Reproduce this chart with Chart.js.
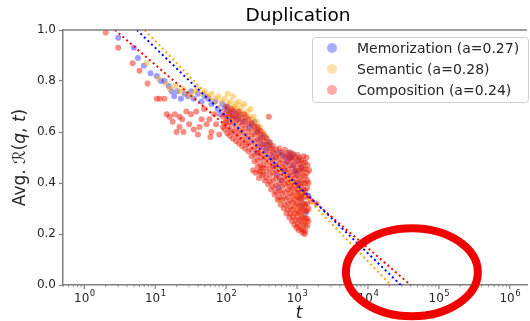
<!DOCTYPE html>
<html>
<head>
<meta charset="UTF-8">
<title>Duplication</title>
<script src="https://cdn.jsdelivr.net/npm/chart.js"></script>
<style>
  body { margin: 0; background: #fff; }
  canvas { display: block; }
</style>
</head>
<body>
<canvas id="chart" width="530" height="321"></canvas>
<script>
const seriesNames = ['Memorization (a=0.27)', 'Semantic (a=0.28)', 'Composition (a=0.24)'];

// [t, avg R]
const memPts = [
  [3.0,0.97],[5.0,0.93],[5.7,0.89],[6.9,0.86],[8.6,0.83],[10.5,0.82],[12,0.80],[13.5,0.80],
  [15.5,0.78],[17,0.76],[18.5,0.74],[20.5,0.76],[23,0.73],[26,0.75],[29,0.74],[32,0.76],
  [35,0.73],[40,0.75],[45,0.72],[50,0.74],[56,0.73],[62,0.71],[70,0.72],[76,0.69],[82,0.67],
  [88,0.71],[95,0.69],[105,0.70],[112,0.68],[120,0.66],[132,0.68],[145,0.65],[158,0.67],
  [172,0.64],[190,0.66],[210,0.62],[235,0.63],[265,0.60],[270,0.52],[300,0.57],[330,0.55],
  [365,0.53],[400,0.56],[440,0.50],[480,0.47],[520,0.43],[550,0.38],[600,0.41],[660,0.45],
  [720,0.48],[780,0.50],[830,0.50],[880,0.47],[940,0.45],[980,0.44],[1000,0.40],[1060,0.37],
  [1120,0.34],[1180,0.31],[1250,0.36],[1320,0.28],[1450,0.35],
  [250,0.64],[280,0.61],[310,0.59],[350,0.58],[390,0.55],[430,0.54],[470,0.52],[510,0.50],
  [560,0.52],[620,0.51],[690,0.50],[760,0.52],[900,0.51],[1050,0.49],[1150,0.46]
];
const semPts = [
  [7.5,0.87],[11,0.81],[14,0.79],[16,0.77],[19,0.78],[22,0.76],[25,0.77],[28,0.75],[32,0.74],
  [36,0.76],[40,0.77],[45,0.75],[50,0.76],[56,0.74],[62,0.75],[70,0.73],[78,0.74],[86,0.72],
  [95,0.73],[105,0.75],[115,0.72],[125,0.74],[130,0.70],[138,0.71],[150,0.72],[160,0.68],
  [165,0.70],[180,0.71],[190,0.66],[200,0.68],[220,0.69],[230,0.65],[245,0.66],[260,0.61],
  [270,0.64],[300,0.62],[330,0.60],[370,0.58],[410,0.55],[450,0.53],[500,0.51],[560,0.49],
  [560,0.33],[620,0.46],[680,0.43],[740,0.40],[800,0.37],[860,0.41],[900,0.30],[920,0.35],
  [980,0.32],[1000,0.28],[1040,0.36],[1100,0.30],[1150,0.34],[1200,0.27],[1280,0.31],[1350,0.25],
  [108,0.71],[118,0.69],[142,0.69],[172,0.67],[210,0.66],[250,0.63],[290,0.59],[340,0.57]
];
const compPts = [
  [2.0,0.99],[3.0,0.93],[4.8,0.87],[6.0,0.84],[7.8,0.79],[10.5,0.73],[11.6,0.73],[13.5,0.73],
  [14.5,0.67],[16,0.66],[17.6,0.64],[18.8,0.67],[20,0.60],[22,0.66],[22,0.62],[24,0.65],
  [25,0.60],[27.5,0.68],[30,0.63],[32,0.67],[35,0.61],[38,0.68],[40,0.59],[42,0.62],[45,0.65],
  [49,0.69],[53,0.63],[58,0.65],[60,0.58],[62,0.60],[68,0.67],[72,0.63],[80,0.59],
  [90,0.66],[90,0.62],[100,0.70],[100,0.64],[110,0.67],[120,0.69],[135,0.66],[150,0.68],
  [180,0.67],[240,0.45],[290,0.42],[320,0.46],[400,0.66],[1360,0.50],[1400,0.47],
  [1590,0.33],[1880,0.32]
];
// dense core of the composition cloud
const compCore = [
  [95,0.61],[95,0.635],[95,0.67],
  [104,0.595],[104,0.625],[104,0.655],[104,0.685],
  [113,0.585],[113,0.61],[113,0.64],[113,0.665],
  [124,0.575],[124,0.60],[124,0.63],[124,0.655],[124,0.68],
  [138,0.565],[138,0.59],[138,0.615],[138,0.645],[138,0.67],
  [152,0.555],[152,0.58],[152,0.605],[152,0.635],[152,0.66],
  [168,0.545],[168,0.57],[168,0.60],[168,0.625],[168,0.65],
  [185,0.535],[185,0.56],[185,0.585],[185,0.615],[185,0.64],
  [205,0.525],[205,0.55],[205,0.575],[205,0.60],[205,0.63],[205,0.65],
  [228,0.505],[228,0.53],[228,0.56],[228,0.585],[228,0.61],[228,0.635],
  [252,0.485],[252,0.51],[252,0.54],[252,0.565],[252,0.59],[252,0.62],
  [278,0.465],[278,0.49],[278,0.52],[278,0.545],[278,0.57],[278,0.60],[278,0.62],
  [305,0.445],[305,0.47],[305,0.50],[305,0.525],[305,0.55],[305,0.58],[305,0.605],
  [338,0.435],[338,0.46],[338,0.485],[338,0.51],[338,0.54],[338,0.565],[338,0.59],
  [372,0.42],[372,0.445],[372,0.47],[372,0.50],[372,0.525],[372,0.55],[372,0.575],
  [415,0.405],[415,0.43],[415,0.455],[415,0.485],[415,0.51],[415,0.535],[415,0.56],
  [458,0.385],[458,0.41],[458,0.44],[458,0.465],[458,0.49],[458,0.52],[458,0.545],
  [505,0.365],[505,0.39],[505,0.42],[505,0.445],[505,0.47],[505,0.50],[505,0.53],
  [560,0.345],[560,0.37],[560,0.40],[560,0.425],[560,0.455],[560,0.48],[560,0.51],[560,0.535],
  [615,0.335],[615,0.36],[615,0.385],[615,0.41],[615,0.44],[615,0.465],[615,0.49],[615,0.52],
  [675,0.315],[675,0.34],[675,0.365],[675,0.395],[675,0.42],[675,0.45],[675,0.475],[675,0.505],[675,0.53],
  [740,0.295],[740,0.32],[740,0.345],[740,0.375],[740,0.40],[740,0.43],[740,0.455],[740,0.485],[740,0.51],
  [800,0.28],[800,0.305],[800,0.33],[800,0.36],[800,0.385],[800,0.415],[800,0.44],[800,0.47],[800,0.495],[800,0.52],
  [865,0.27],[865,0.295],[865,0.325],[865,0.35],[865,0.38],[865,0.405],[865,0.43],[865,0.46],[865,0.49],[865,0.515],
  [935,0.255],[935,0.28],[935,0.31],[935,0.335],[935,0.365],[935,0.39],[935,0.42],[935,0.445],[935,0.475],[935,0.50],
  [1010,0.24],[1010,0.265],[1010,0.29],[1010,0.32],[1010,0.345],[1010,0.375],[1010,0.40],[1010,0.43],[1010,0.455],[1010,0.485],[1010,0.51],
  [1080,0.23],[1080,0.255],[1080,0.285],[1080,0.31],[1080,0.34],[1080,0.365],[1080,0.395],[1080,0.42],[1080,0.45],[1080,0.475],[1080,0.50],
  [1150,0.22],[1150,0.25],[1150,0.275],[1150,0.30],[1150,0.33],[1150,0.355],[1150,0.385],[1150,0.41],[1150,0.44],[1150,0.465],[1150,0.49],
  [1230,0.215],[1230,0.24],[1230,0.265],[1230,0.295],[1230,0.32],[1230,0.35],[1230,0.375],[1230,0.40],[1230,0.43],[1230,0.455],[1230,0.48],[1230,0.505],
  [1310,0.21],[1310,0.235],[1310,0.26],[1310,0.29],[1310,0.315],[1310,0.345],[1310,0.37],[1310,0.40],[1310,0.425],[1310,0.455],[1310,0.48],
  [1390,0.23],[1390,0.26],[1390,0.29],[1390,0.32],[1390,0.35],[1390,0.38],[1390,0.41],[1390,0.44],
  [1450,0.25],[1450,0.30],[1450,0.40],[1480,0.45],
  [260,0.44],[290,0.445],[320,0.43],[350,0.41],[390,0.395],[430,0.375],[480,0.355],[530,0.335],
  [590,0.315],[650,0.30],[710,0.28],[780,0.265],[850,0.25],[920,0.235],[990,0.225],[1060,0.215],
  [1200,0.205],[1280,0.20]
];

// fitted lines, [t, R] at both ends
const memFit = [[5.5, 1.0], [29000, 0.0]];
const semFit = [[7.1, 1.0], [21000, 0.0]];
const compFit = [[2.7, 1.0], [40000, 0.0]];

const yTicks = [0.0, 0.2, 0.4, 0.6, 0.8, 1.0];
const xTickExps = [0, 1, 2, 3, 4, 5, 6];
const circleAt = [39000, 0.05];   // red annotation ellipse centre [t, R]

const dotColors = ['rgba(0,0,255,0.38)', 'rgba(255,165,0,0.42)', 'rgba(235,30,10,0.5)'];
const legendColors = ['rgba(0,0,255,0.33)', 'rgba(255,165,0,0.33)', 'rgba(255,0,0,0.33)'];
const lineColors = ['#0000ff', '#ffa500', '#ff0000'];
const axisColor = '#7f7f7f';
const textColor = '#262626';
const FONT = 'DejaVu Sans';

const toXY = arr => arr.map(p => ({x: p[0], y: p[1]}));

function scatterSet(pts, i, order) {
  return {
    label: seriesNames[i], data: toXY(pts), order: order,
    backgroundColor: dotColors[i], borderWidth: 0, pointRadius: 3, pointHoverRadius: 3
  };
}
function fitSet(pts, i) {
  return {
    data: toXY(pts), showLine: true, order: 0, borderColor: lineColors[i],
    borderWidth: 2, borderDash: [2, 3], pointRadius: 0, fill: false
  };
}

const decor = {
  id: 'decor',
  afterDraw(chart) {
    const {ctx, chartArea: a, scales: {x, y}} = chart;
    ctx.save();
    // top spine
    ctx.strokeStyle = axisColor;
    ctx.lineWidth = 1.5;
    ctx.beginPath(); ctx.moveTo(a.left, a.top); ctx.lineTo(a.right, a.top); ctx.stroke();

    // x ticks, major and minor
    for (let e = -1; e <= 6; e++) {
      for (let m = 1; m <= 9; m++) {
        const v = m * Math.pow(10, e);
        if (v < x.min || v > x.max) continue;
        const px = x.getPixelForValue(v);
        ctx.lineWidth = m === 1 ? 1.2 : 0.8;
        ctx.beginPath(); ctx.moveTo(px, a.bottom); ctx.lineTo(px, a.bottom + (m === 1 ? 4 : 2.2)); ctx.stroke();
      }
    }
    // x tick labels 10^n
    ctx.fillStyle = textColor;
    ctx.textBaseline = 'alphabetic';
    ctx.textAlign = 'left';
    xTickExps.forEach(e => {
      const px = x.getPixelForValue(Math.pow(10, e));
      ctx.font = '12px "' + FONT + '"';
      const w1 = ctx.measureText('10').width;
      ctx.font = '8.5px "' + FONT + '"';
      const w2 = ctx.measureText(String(e)).width;
      const x0 = px - (w1 + w2) / 2;
      ctx.font = '12px "' + FONT + '"';
      ctx.fillText('10', x0, a.bottom + 17);
      ctx.font = '8.5px "' + FONT + '"';
      ctx.fillText(String(e), x0 + w1 + 0.5, a.bottom + 11);
    });

    // x title
    ctx.font = 'italic 17px "' + FONT + '"';
    ctx.textAlign = 'center';
    ctx.fillText('t', (a.left + a.right) / 2 + 4, a.bottom + 33);

    // y title
    ctx.save();
    ctx.translate(21, (a.top + a.bottom) / 2);
    ctx.rotate(-Math.PI / 2);
    const parts = [['Avg. ', ''], ['\u211B', ''], ['(', ''], ['q', 'italic '], [', ', ''], ['t', 'italic '], [')', '']];
    let tw = 0;
    parts.forEach(p => { ctx.font = p[1] + '17px "' + FONT + '"'; tw += ctx.measureText(p[0]).width; });
    let cx = -tw / 2;
    ctx.textAlign = 'left';
    ctx.textBaseline = 'middle';
    parts.forEach(p => {
      ctx.font = p[1] + '17px "' + FONT + '"';
      ctx.fillText(p[0], cx, 0);
      cx += ctx.measureText(p[0]).width;
    });
    ctx.restore();

    // title
    ctx.font = '18.5px "' + FONT + '"';
    ctx.textAlign = 'center';
    ctx.textBaseline = 'alphabetic';
    ctx.fillStyle = '#000';
    ctx.fillText('Duplication', (a.left + a.right) / 2 + 3, 21);

    // legend
    const lx = 312, ly = 37, lw = 216, lh = 65;
    ctx.fillStyle = 'rgba(255,255,255,0.8)';
    ctx.strokeStyle = '#d0d0d0';
    ctx.lineWidth = 1;
    ctx.beginPath();
    ctx.roundRect(lx + 0.5, ly + 0.5, lw, lh, 3);
    ctx.fill(); ctx.stroke();
    ctx.font = '14px "' + FONT + '"';
    ctx.textAlign = 'left';
    ctx.textBaseline = 'middle';
    seriesNames.forEach((name, i) => {
      const ry = ly + 11 + i * 21;
      ctx.fillStyle = legendColors[i];
      ctx.beginPath(); ctx.arc(lx + 20, ry, 5, 0, Math.PI * 2); ctx.fill();
      ctx.fillStyle = textColor;
      ctx.fillText(name, lx + 45, ry + 1);
    });

    // red annotation ellipse
    const ex = x.getPixelForValue(circleAt[0]);
    const ey = y.getPixelForValue(circleAt[1]);
    ctx.strokeStyle = '#f00000';
    ctx.lineWidth = 8;
    ctx.beginPath();
    ctx.ellipse(ex + 2, ey, 66, 44, 0, 0, Math.PI * 2);
    ctx.stroke();
    ctx.restore();
  }
};

new Chart(document.getElementById('chart'), {
  type: 'scatter',
  data: {
    datasets: [
      fitSet(memFit, 0), fitSet(semFit, 1), fitSet(compFit, 2),
      scatterSet(compPts.concat(compCore), 2, 1), scatterSet(semPts, 1, 2), scatterSet(memPts, 0, 3)
    ]
  },
  options: {
    responsive: false,
    animation: false,
    layout: { padding: { top: 30, right: 0, bottom: 0, left: 0 } },
    plugins: { legend: { display: false }, tooltip: { enabled: false } },
    scales: {
      x: {
        type: 'logarithmic', min: 0.5, max: 1.75e6,
        grid: { display: false },
        border: { display: true, color: axisColor, width: 1.5 },
        ticks: { display: false },
        afterFit: s => { s.height = 36; }
      },
      y: {
        min: 0, max: 1,
        afterBuildTicks: s => { s.ticks = yTicks.map(v => ({value: v})); },
        grid: { drawOnChartArea: false, tickLength: 4, tickColor: axisColor, tickWidth: 1.2 },
        border: { display: true, color: axisColor, width: 1.5 },
        ticks: { padding: 3, color: textColor, font: { family: FONT, size: 12 }, callback: v => v.toFixed(1) },
        afterFit: s => { s.width = 63; }
      }
    }
  },
  plugins: [decor]
});
</script>
</body>
</html>
